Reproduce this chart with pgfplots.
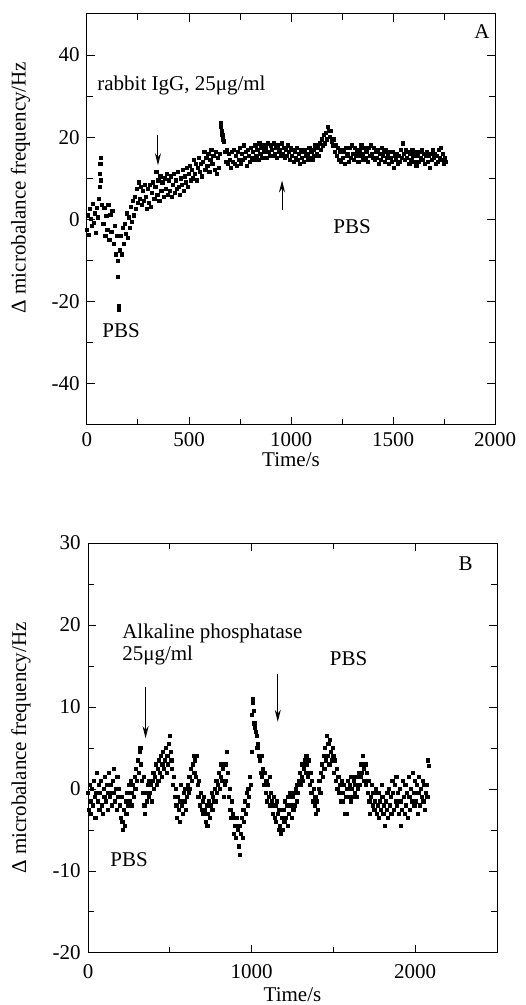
\documentclass[border=0pt]{standalone}
\usepackage{fontspec}
\setmainfont{Liberation Serif}
\usepackage{pgfplots}
\pgfplotsset{compat=1.18}
\usetikzlibrary{arrows.meta}

\pgfplotsset{
  qcm/.style={
    scale only axis,
    clip=false,
    axis line style={line width=0.5pt},
    tick style={line width=0.5pt, black},
    major tick length=4pt,
    minor tick length=3pt,
    tick align=inside,
    xtick pos=both, ytick pos=both,
  },
  pts/.style={only marks, mark=square*, mark size=0.8pt, black},
}

\begin{document}
\fontsize{10.5}{12.6}\selectfont
\begin{tikzpicture}
\useasboundingbox (0,0) rectangle (262.5pt,502.5pt);

% ---------- panel A ----------
\begin{axis}[qcm,
  at={(43.5pt,290pt)}, anchor=south west,
  width=204pt, height=205.5pt,
  xmin=0, xmax=2000, ymin=-50, ymax=50,
  xtick={0,500,1000,1500,2000}, xticklabels={0,500,1000,1500,2000},
  minor xtick={250,750,1250,1750},
  ytick={-40,-20,0,20,40}, yticklabels={-40,-20,0,20,40},
  minor ytick={-30,-10,10,30},
  xlabel={Time/s},
  ylabel={Δ microbalance frequency/Hz},
  xlabel style={at={(axis description cs:0.5,-0.085)}, anchor=center},
  ylabel style={at={(axis description cs:-0.163,0.578)}, anchor=center, rotate=0},
]
\addplot[pts] coordinates {
(0,-2.5) (5,1.0) (10,-3.8) (15,2.5) (20,0.2) (25,-1.5) (30,3.8) (35,-0.8) (40,1.5) (45,-3.2)
(50,2.8) (55,0.5) (60,5.0) (62,8.0) (64,11.0) (66,13.5) (68,15.0) (70,9.5) (75,3.5) (80,-1.0)
(85,2.8) (90,-4.0) (95,0.8) (100,-2.5) (105,3.5) (110,-5.0) (115,1.2) (120,-3.0) (125,2.0) (130,-6.0)
(135,-1.5) (140,-8.5) (145,-4.0) (150,-10.0) (152,-14.0) (155,-21.0) (157,-22.0) (160,-7.5) (165,-4.0) (170,-8.5)
(175,-2.0) (180,-6.0) (185,-1.0) (190,-3.5) (195,1.5) (200,-4.5) (205,0.5) (210,-2.0) (215,3.0) (220,-0.5)
(225,4.5) (230,1.0) (235,5.5) (240,2.5) (245,7.5) (250,4.0) (255,9.0) (260,5.0) (265,8.0) (270,3.5)
(275,7.0) (280,4.5) (285,8.5) (290,5.5) (295,2.5) (300,7.5) (305,4.0) (310,8.5) (315,3.0) (320,6.5)
(325,9.0) (330,5.0) (335,8.0) (340,11.5) (345,6.0) (350,9.5) (355,4.5) (360,10.5) (365,7.0) (370,9.0)
(375,5.5) (380,10.0) (385,7.5) (390,11.0) (395,6.0) (400,9.5) (405,7.0) (410,10.5) (415,5.5) (420,8.5)
(425,11.0) (430,6.5) (435,9.5) (440,7.5) (445,11.5) (450,8.0) (455,6.0) (460,10.0) (465,8.5) (470,12.0)
(475,7.0) (480,10.5) (485,9.0) (490,12.5) (495,8.0) (500,11.0) (505,13.0) (510,9.5) (515,12.0) (520,10.0)
(525,14.5) (530,11.0) (535,13.5) (540,9.5) (545,12.5) (550,15.0) (555,11.5) (560,13.5) (565,10.5) (570,14.0)
(575,16.5) (580,12.0) (585,15.0) (590,13.0) (595,16.0) (600,11.5) (605,14.5) (610,17.0) (615,13.5) (620,15.5)
(625,12.0) (630,16.5) (635,11.0) (640,15.0) (645,12.5) (650,16.0) (655,23.5) (658,22.5) (661,21.5) (664,20.5)
(667,19.5) (670,19.0) (675,16.5) (680,14.0) (685,17.0) (690,13.5) (695,16.0) (700,14.5) (705,12.5) (710,16.5)
(715,14.0) (720,17.0) (725,13.5) (730,15.5) (735,13.0) (740,16.5) (745,14.5) (750,17.5) (755,13.5) (760,16.0)
(765,14.5) (770,18.0) (775,15.0) (780,16.5) (785,13.0) (790,17.0) (795,15.5) (800,14.0) (805,17.5) (810,15.0)
(815,16.5) (820,14.5) (825,18.0) (830,15.5) (835,17.0) (840,14.5) (845,18.5) (850,16.0) (855,17.5) (860,15.0)
(865,18.0) (870,16.5) (875,17.5) (880,15.0) (885,18.5) (890,16.5) (895,15.5) (900,18.0) (905,17.0) (910,15.5)
(915,18.5) (920,16.0) (925,17.5) (930,15.0) (935,18.0) (940,16.5) (945,17.0) (950,15.5) (955,18.5) (960,16.0)
(965,17.5) (970,15.0) (975,17.0) (980,15.5) (985,18.0) (990,16.5) (995,14.5) (1000,17.5) (1005,15.5) (1010,17.0)
(1015,14.0) (1020,16.5) (1025,15.0) (1030,17.5) (1035,14.5) (1040,16.0) (1045,13.5) (1050,17.0) (1055,15.0) (1060,16.5)
(1065,14.0) (1070,17.0) (1075,15.5) (1080,16.0) (1085,14.5) (1090,17.5) (1095,15.0) (1100,16.5) (1105,14.5) (1110,17.0)
(1115,15.5) (1120,18.0) (1125,16.0) (1130,17.5) (1135,15.5) (1140,18.5) (1145,17.0) (1150,19.5) (1155,18.0) (1160,20.5)
(1165,18.5) (1170,21.0) (1175,19.5) (1180,22.5) (1185,21.5) (1190,20.0) (1195,21.5) (1200,19.0) (1205,18.0) (1210,19.5)
(1215,16.5) (1220,18.0) (1225,15.5) (1230,17.5) (1235,14.5) (1240,16.5) (1245,14.0) (1250,17.0) (1255,15.0) (1260,16.5)
(1265,13.5) (1270,17.5) (1275,15.5) (1280,16.0) (1285,14.0) (1290,17.5) (1295,15.0) (1300,18.0) (1305,16.0) (1310,14.5)
(1315,17.5) (1320,15.5) (1325,16.5) (1330,14.0) (1335,17.0) (1340,15.5) (1345,18.0) (1350,16.0) (1355,14.5) (1360,17.5)
(1365,15.0) (1370,16.5) (1375,14.0) (1380,17.5) (1385,15.5) (1390,18.0) (1395,16.0) (1400,15.0) (1405,17.5) (1410,14.5)
(1415,16.5) (1420,15.0) (1425,17.0) (1430,13.5) (1435,16.0) (1440,14.5) (1445,17.5) (1450,15.5) (1455,16.5) (1460,14.0)
(1465,17.0) (1470,15.0) (1475,16.0) (1480,13.5) (1485,16.5) (1490,15.0) (1495,14.0) (1500,16.5) (1505,12.5) (1510,15.5)
(1515,14.5) (1520,16.0) (1525,13.5) (1530,15.5) (1535,14.0) (1540,17.0) (1545,15.0) (1550,18.5) (1555,16.0) (1560,14.5)
(1565,17.0) (1570,15.0) (1575,16.5) (1580,13.5) (1585,16.0) (1590,14.5) (1595,17.0) (1600,15.5) (1605,14.0) (1610,16.5)
(1615,13.0) (1620,15.5) (1625,14.0) (1630,16.5) (1635,15.0) (1640,17.0) (1645,14.5) (1650,16.0) (1655,13.5) (1660,15.5)
(1665,16.5) (1670,14.0) (1675,15.5) (1680,12.5) (1685,16.0) (1690,14.5) (1695,17.0) (1700,15.0) (1705,16.0) (1710,13.5)
(1715,15.5) (1720,14.0) (1725,17.0) (1730,15.0) (1735,17.5) (1740,14.5) (1745,16.0) (1750,13.5) (1755,15.0) (1760,14.0)
};
\node[anchor=base west] at (axis cs:1863,44.1) {A};
\node[anchor=base west, inner sep=0pt] at (axis cs:49,31.5) {rabbit IgG, 25μg/ml};
\node[anchor=base west, inner sep=0pt] at (axis cs:1206,-3.4) {PBS};
\node[anchor=base west, inner sep=0pt] at (axis cs:74,-28.8) {PBS};
\draw[line width=0.5pt, -{Stealth[length=6pt,width=3pt]}] (axis cs:348,20.5) -- (axis cs:348,13.2);
\draw[line width=0.5pt, -{Stealth[length=6pt,width=3pt]}] (axis cs:956,2.2) -- (axis cs:956,9.5);
\end{axis}

% ---------- panel B ----------
\begin{axis}[qcm,
  at={(44pt,26pt)}, anchor=south west,
  width=204.5pt, height=205pt,
  xmin=0, xmax=2500, ymin=-20, ymax=30,
  xtick={0,1000,2000}, xticklabels={0,1000,2000},
  minor xtick={500,1500},
  ytick={-20,-10,0,10,20,30}, yticklabels={-20,-10,0,10,20,30},
  minor ytick={-15,-5,5,15,25},
  xticklabel style={yshift=-2pt},
  xlabel={Time/s},
  ylabel={Δ microbalance frequency/Hz},
  xlabel style={at={(axis description cs:0.5,-0.102)}, anchor=center},
  ylabel style={at={(axis description cs:-0.164,0.5)}, anchor=center, rotate=0},
]
\addplot[pts] coordinates {
(0,-0.5) (5,-2.5) (10,0.5) (15,-1.5) (20,-3.0) (25,0.0) (30,-2.0) (35,1.0) (40,-1.0) (45,-3.5)
(50,-0.5) (55,2.0) (60,-1.5) (65,0.5) (70,-2.5) (75,-0.5) (80,1.0) (85,-2.0) (90,-3.0) (95,0.0)
(100,-1.0) (105,1.5) (110,-1.5) (115,0.5) (120,-2.5) (125,-0.5) (130,2.0) (135,-1.0) (140,0.5) (145,-2.0)
(150,1.0) (155,-0.5) (160,2.5) (165,-1.5) (170,0.0) (175,-2.5) (180,1.5) (185,-1.0) (190,0.0) (195,-2.0)
(200,-3.5) (205,-1.0) (210,-4.0) (215,-5.0) (220,-2.5) (225,-4.5) (230,-1.5) (235,-3.0) (240,-0.5) (245,-2.0)
(250,0.5) (255,-1.5) (260,1.0) (265,-0.5) (270,-2.0) (275,0.5) (280,-1.0) (285,1.5) (290,0.0) (295,2.5)
(300,1.0) (305,3.5) (310,2.0) (315,4.5) (320,5.0) (325,3.0) (330,1.0) (335,-0.5) (340,1.5) (345,-2.0)
(350,-3.0) (355,-0.5) (360,-1.5) (365,0.5) (370,-1.0) (375,1.0) (380,-0.5) (385,0.5) (390,-1.5) (395,1.0)
(400,2.0) (405,0.0) (410,1.5) (415,3.0) (420,0.5) (425,2.5) (430,1.0) (435,3.5) (440,2.0) (445,4.0)
(450,1.5) (455,3.0) (460,4.5) (465,2.5) (470,3.5) (475,5.0) (480,2.0) (485,4.0) (490,3.0) (495,5.5)
(500,6.5) (505,4.5) (510,3.5) (515,2.5) (520,0.5) (525,1.5) (530,-1.0) (535,0.0) (540,-2.0) (545,-3.5)
(550,-1.0) (555,-2.5) (560,-4.0) (565,-1.5) (570,0.5) (575,-2.0) (580,-3.0) (585,-0.5) (590,-1.5) (595,0.0)
(600,-2.5) (605,-1.0) (610,0.5) (615,-0.5) (620,1.5) (625,0.0) (630,2.5) (635,1.0) (640,3.0) (645,4.0)
(650,2.0) (655,3.5) (660,1.5) (665,4.0) (670,0.5) (675,-1.0) (680,1.0) (685,-2.0) (690,-0.5) (695,-2.5)
(700,-1.5) (705,-3.0) (710,-1.0) (715,-2.5) (720,-4.0) (725,-2.0) (730,-4.5) (735,-3.0) (740,-1.5) (745,-3.5)
(750,-2.0) (755,-0.5) (760,-2.5) (765,-1.0) (770,-1.5) (775,0.0) (780,-1.5) (785,1.0) (790,-0.5) (795,0.5)
(800,2.0) (805,0.0) (810,1.5) (815,3.0) (820,1.0) (825,2.5) (830,-1.0) (835,0.5) (840,1.0) (845,3.0)
(850,4.5) (855,2.0) (860,-1.0) (865,0.0) (870,-2.5) (875,-3.5) (880,-1.5) (885,-3.0) (890,-5.5) (895,-3.5)
(900,-4.5) (905,-6.0) (910,-3.5) (915,-5.0) (920,-7.0) (925,-4.5) (930,-8.0) (935,-5.5) (940,-3.5) (945,-6.0)
(950,-2.5) (955,-4.0) (960,-1.5) (965,-3.0) (970,-0.5) (975,-2.0) (980,0.0) (985,-1.0) (990,1.5) (995,0.5)
(1000,4.5) (1003,9.0) (1007,11.0) (1010,10.5) (1013,9.5) (1017,8.0) (1020,7.5) (1025,7.0) (1030,6.5) (1035,5.0)
(1040,5.5) (1045,4.0) (1050,3.5) (1055,2.0) (1060,4.0) (1065,1.5) (1070,2.5) (1075,0.5) (1080,2.0) (1085,-0.5)
(1090,1.0) (1095,-1.5) (1100,0.5) (1105,-1.0) (1110,1.5) (1115,-2.0) (1120,-0.5) (1125,-1.5) (1130,-3.0) (1135,-1.0)
(1140,-3.5) (1145,-2.0) (1150,-4.0) (1155,-1.5) (1160,-3.0) (1165,-5.0) (1170,-2.5) (1175,-4.5) (1180,-5.5) (1185,-3.5)
(1190,-5.0) (1195,-2.5) (1200,-4.0) (1205,-1.5) (1210,-3.5) (1215,-2.0) (1220,-4.5) (1225,-1.0) (1230,-3.0) (1235,-0.5)
(1240,-2.0) (1245,-3.5) (1250,-1.0) (1255,-2.5) (1260,-0.5) (1265,-2.0) (1270,0.0) (1275,-1.5) (1280,0.5) (1285,-0.5)
(1290,1.0) (1295,2.0) (1300,0.5) (1305,1.5) (1310,3.0) (1315,1.0) (1320,2.5) (1325,3.5) (1330,2.0) (1335,4.0)
(1340,3.0) (1345,1.5) (1350,3.5) (1355,0.5) (1360,2.0) (1365,-0.5) (1370,1.0) (1375,-1.5) (1380,0.0) (1385,-2.0)
(1390,-1.0) (1395,-3.0) (1400,-1.5) (1405,-2.5) (1410,0.0) (1415,1.0) (1420,-0.5) (1425,2.0) (1430,3.0) (1435,1.5)
(1440,4.0) (1445,2.5) (1450,5.0) (1455,3.5) (1460,6.5) (1465,4.0) (1470,5.5) (1475,3.0) (1480,6.0) (1485,4.5)
(1490,3.5) (1495,5.0) (1500,4.0) (1505,2.0) (1510,3.5) (1515,1.0) (1520,2.5) (1525,0.0) (1530,1.5) (1535,-0.5)
(1540,0.5) (1545,-1.5) (1550,1.0) (1555,-0.5) (1560,-1.5) (1565,0.5) (1570,-3.0) (1575,-1.0) (1580,-3.0) (1585,0.0)
(1590,1.0) (1595,-1.0) (1600,0.5) (1605,-1.5) (1610,1.5) (1615,0.0) (1620,-1.0) (1625,1.0) (1630,-0.5) (1635,0.5)
(1640,1.5) (1645,-1.0) (1650,0.0) (1655,2.0) (1660,0.5) (1665,1.5) (1670,3.0) (1675,2.0) (1680,4.0) (1685,2.5)
(1690,1.0) (1695,3.0) (1700,0.5) (1705,2.0) (1710,-0.5) (1715,1.0) (1720,-1.5) (1725,-3.0) (1730,-1.0) (1735,0.5)
(1740,-2.0) (1745,-0.5) (1750,-2.5) (1755,-1.5) (1760,0.0) (1765,-3.0) (1770,-2.0) (1775,-0.5) (1780,-3.5) (1785,-1.5)
(1790,-2.5) (1795,0.5) (1800,-1.0) (1805,-3.0) (1810,-2.0) (1815,-4.5) (1820,-1.5) (1825,-2.5) (1830,-0.5) (1835,-3.5)
(1840,0.0) (1845,-2.0) (1850,-1.0) (1855,-3.0) (1860,1.0) (1865,-0.5) (1870,-2.5) (1875,0.5) (1880,-1.5) (1885,1.5)
(1890,-2.0) (1895,-0.5) (1900,-3.0) (1905,0.0) (1910,-1.5) (1915,-4.5) (1920,-2.5) (1925,1.0) (1930,-1.0) (1935,-3.0)
(1940,0.5) (1945,-2.0) (1950,-0.5) (1955,-3.5) (1960,1.5) (1965,-1.0) (1970,-2.5) (1975,0.0) (1980,-1.5) (1985,2.0)
(1990,-0.5) (1995,-2.0) (2000,1.0) (2005,-1.5) (2010,0.5) (2015,-3.0) (2020,-0.5) (2025,1.5) (2030,-2.0) (2035,0.0)
(2040,-1.0) (2045,1.0) (2050,-1.5) (2055,0.5) (2060,-2.5) (2065,-0.5) (2070,0.5) (2075,-1.0) (2080,3.5) (2082,2.8)
};
\node[anchor=base west] at (axis cs:2220,26.7) {B};
\node[anchor=base west, inner sep=0pt] at (axis cs:207,18.4) {Alkaline phosphatase};
\node[anchor=base west, inner sep=0pt] at (axis cs:207,15.7) {25μg/ml};
\node[anchor=base west, inner sep=0pt] at (axis cs:1476,15.1) {PBS};
\node[anchor=base west, inner sep=0pt] at (axis cs:134,-9.5) {PBS};
\draw[line width=0.5pt, -{Stealth[length=6pt,width=3pt]}] (axis cs:352,12.4) -- (axis cs:352,6.2);
\draw[line width=0.5pt, -{Stealth[length=6pt,width=3pt]}] (axis cs:1160,14.0) -- (axis cs:1160,8.2);
\end{axis}
\end{tikzpicture}
\end{document}
